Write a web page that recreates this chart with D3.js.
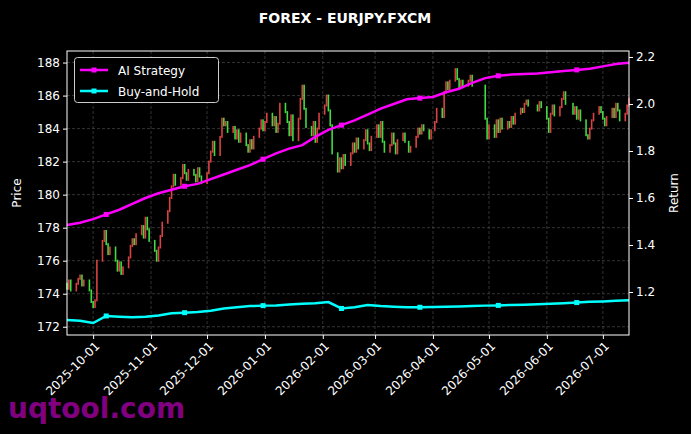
<!DOCTYPE html>
<html><head><meta charset="utf-8">
<script src="https://cdn.jsdelivr.net/npm/d3@7"></script>
<style>body{margin:0;background:#000}svg{display:block}text{font-family:"DejaVu Sans",sans-serif}</style>
</head><body>
<svg id="c" width="691" height="434"></svg>
<script>
const title = "FOREX - EURJPY.FXCM";
const startDate = "2025-09-17", endDate = "2026-07-15";
// daily closes on weekdays from startDate (null = no data)
const closes = [
174.3,174.8,174.2,
174.6,174.9,175.1,174.5,174.8,
174.2,173.5,173.2,173.6,176.0,
177.2,177.8,177.0,176.4,176.8,
176.0,175.4,175.9,175.2,175.6,
176.2,176.9,177.3,177.0,177.6,
178.1,177.4,178.6,177.9,177.2,
176.6,176.0,176.8,177.5,178.3,
179.0,179.8,180.5,181.2,180.6,
181.0,181.8,181.3,180.9,181.5,
181.2,180.8,181.6,181.1,180.7,
181.3,182.0,182.6,183.2,182.4,
183.5,184.6,184.2,184.4,183.8,
184.1,183.4,183.9,183.2,183.7,
183.0,182.6,183.3,182.8,183.5,
184.0,184.5,183.9,184.4,184.9,
184.2,184.7,183.8,184.3,185.5,
185.0,184.4,183.6,184.8,183.3,
184.6,185.8,186.6,185.2,184.1,
183.6,184.4,183.2,184.0,184.9,
185.4,186.0,185.1,184.2,182.5,
181.4,182.2,181.6,182.4,181.8,
182.5,183.1,182.6,183.4,182.8,
183.3,183.9,183.1,182.7,183.5,
184.2,183.5,184.4,183.2,182.6,
183.0,183.7,183.1,182.5,183.3,
183.7,183.2,null,182.6,182.9,
183.5,184.0,183.7,184.2,183.9,
183.4,183.9,null,184.4,185.2,
184.7,186.2,186.8,186.4,186.9,
187.6,187.0,186.5,186.9,186.6,
186.9,187.2,186.6,null,null,
null,null,184.6,183.4,184.2,
183.5,184.5,183.8,184.6,184.0,
184.4,184.1,184.7,184.3,184.9,
185.2,185.0,185.5,185.7,185.4,
null,null,185.1,185.6,185.3,
184.6,183.8,184.9,185.4,184.8,
185.3,185.8,186.2,185.5,null,
184.9,185.3,184.6,185.1,184.5,
183.6,183.4,184.0,184.5,184.9,
185.3,185.0,184.6,184.2,184.7,
185.2,184.7,185.5,185.1,184.5,
184.9,185.4,185.8];
// weekly returns, one per week starting at startDate
const aiStrategy = [1.485,1.495,1.51,1.53,1.55,1.575,1.60,1.62,1.635,1.65,1.66,1.68,1.70,1.72,1.74,1.765,1.79,1.81,1.825,1.86,1.89,1.91,1.93,1.955,1.98,2.00,2.02,2.025,2.03,2.05,2.065,2.09,2.11,2.12,2.125,2.128,2.13,2.135,2.14,2.145,2.15,2.16,2.17,2.175];
const buyHold = [1.081,1.078,1.068,1.098,1.095,1.093,1.095,1.10,1.11,1.112,1.115,1.12,1.13,1.135,1.14,1.142,1.143,1.147,1.15,1.152,1.157,1.13,1.135,1.145,1.14,1.137,1.135,1.135,1.136,1.137,1.138,1.14,1.142,1.143,1.145,1.146,1.148,1.15,1.152,1.155,1.158,1.16,1.163,1.165];
const leftTicks = [172,174,176,178,180,182,184,186,188];
const rightTicks = [1.2,1.4,1.6,1.8,2.0,2.2];

const svg = d3.select("#c");
const L=67,R=629,T=51,B=335;
const parse = d3.timeParse("%Y-%m-%d");
const d0=parse(startDate), d1=parse(endDate);
const days = d3.timeDay.range(d0, d3.timeDay.offset(d1,1)).filter(d=>d.getDay()>0&&d.getDay()<6);
const x = d3.scaleTime().domain([d0,d1]).range([L,R]);
const y = d3.scaleLinear().domain([171.5,188.7]).range([B,T]);
const y2 = d3.scaleLinear().domain([1.017,2.2255]).range([B,T]);
const weeks = aiStrategy.map((_,i)=>d3.timeDay.offset(d0,i*7));

// grid
const monthTicks = d3.timeMonth.range(parse("2025-10-01"), parse("2026-07-02"));
const g = svg.append("g");
g.selectAll("line.v").data(monthTicks).join("line").attr("x1",d=>x(d)).attr("x2",d=>x(d)).attr("y1",T).attr("y2",B)
 .attr("stroke","#555").attr("stroke-width",0.6).attr("stroke-dasharray","3,2");
g.selectAll("line.h").data(leftTicks).join("line").attr("x1",L).attr("x2",R).attr("y1",d=>y(d)).attr("y2",d=>y(d))
 .attr("stroke","#555").attr("stroke-width",0.6).attr("stroke-dasharray","3,2");

// candles
const candles=[]; let prev=174.6;
closes.forEach((c,i)=>{ if(c==null) return; candles.push({d:days[i],o:prev,c}); prev=c; });
svg.append("g").selectAll("rect").data(candles).join("rect")
 .attr("x",d=>x(d.d)-0.8).attr("width",1.6)
 .attr("y",d=>y(Math.max(d.o,d.c))-1).attr("height",d=>Math.abs(y(d.o)-y(d.c))+2)
 .attr("fill",d=>d.c>=d.o?"#ff4d4d":"#4dff4d").attr("opacity",0.85);

// lines
function drawLine(vals,col){
  const pts = vals.map((v,i)=>[weeks[i],v]);
  svg.append("path").datum(pts).attr("fill","none").attr("stroke",col).attr("stroke-width",2.5)
   .attr("d",d3.line().x(d=>x(d[0])).y(d=>y2(d[1])));
  svg.append("g").selectAll("rect").data(pts.filter((_,i)=>i%6==3)).join("rect")
   .attr("x",d=>x(d[0])-2.5).attr("y",d=>y2(d[1])-2.5).attr("width",5).attr("height",5).attr("fill",col);
}
drawLine(aiStrategy,"#ff00ff");
drawLine(buyHold,"#00ffff");

// frame
svg.append("rect").attr("x",L).attr("y",T).attr("width",R-L).attr("height",B-T).attr("fill","none").attr("stroke","#fff").attr("stroke-width",1);

// axes
const ax = svg.append("g").attr("transform",`translate(0,${B})`)
 .call(d3.axisBottom(x).tickValues(monthTicks).tickFormat(d3.timeFormat("%Y-%m-%d")).tickSize(4));
ax.selectAll("text").attr("transform","rotate(-45)").attr("text-anchor","end").attr("dx","-0.3em").attr("dy","0.5em");
const ay = svg.append("g").attr("transform",`translate(${L},0)`).call(d3.axisLeft(y).tickValues(leftTicks).tickSize(4));
const ay2 = svg.append("g").attr("transform",`translate(${R},0)`).call(d3.axisRight(y2).tickValues(rightTicks).tickFormat(d3.format(".1f")).tickSize(4));
[ax,ay,ay2].forEach(a=>{a.select(".domain").remove();a.selectAll("line").attr("stroke","#fff");a.selectAll("text").attr("fill","#fff").style("font-size","12px").style("font-family","DejaVu Sans");});

svg.append("text").attr("x",345).attr("y",23).attr("text-anchor","middle").attr("fill","#fff").style("font-size","14px").style("font-weight","bold").text(title);
svg.append("text").attr("transform","translate(21,193) rotate(-90)").attr("text-anchor","middle").attr("fill","#fff").style("font-size","12px").text("Price");
svg.append("text").attr("transform","translate(678,193) rotate(-90)").attr("text-anchor","middle").attr("fill","#fff").style("font-size","12px").text("Return");

// legend
const lg = svg.append("g");
lg.append("rect").attr("x",74.5).attr("y",57.5).attr("width",144).attr("height",45).attr("rx",3).attr("fill","#000").attr("stroke","#ccc");
[["AI Strategy","#ff00ff",70],["Buy-and-Hold","#00ffff",91]].forEach(([t,c,yy])=>{
  lg.append("line").attr("x1",80).attr("x2",108).attr("y1",yy).attr("y2",yy).attr("stroke",c).attr("stroke-width",2.5);
  lg.append("rect").attr("x",91.5).attr("y",yy-2.5).attr("width",5).attr("height",5).attr("fill",c);
  lg.append("text").attr("x",118).attr("y",yy+4.5).attr("fill","#fff").style("font-size","12px").text(t);
});
svg.append("text").attr("x",8).attr("y",418).attr("fill","#800080").style("font-size","28px").style("font-weight","bold").text("uqtool.com");
</script></body></html>
